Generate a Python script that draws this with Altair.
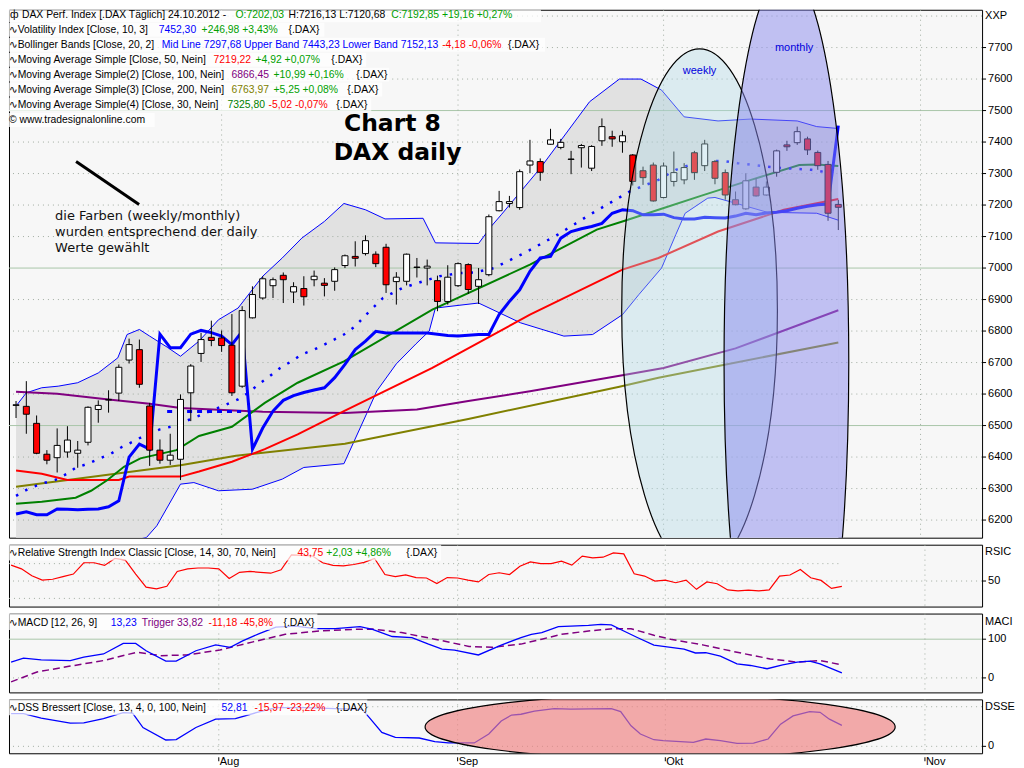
import altair as alt
import pandas as pd

# ---------------- daily candles (bar index 0 = early July 2012, 80 = 24.10.2012) ----------------
opens = [6564, 6561, 6507, 6409, 6398, 6416, 6412, 6447, 6551, 6581,
         6603, 6708, 6741, 6562, 6422, 6390, 6393, 6604, 6729, 6780,
         6778, 6755, 6625, 6842, 6905, 6944, 6977, 6924, 6935, 6963,
         6952, 6958, 7008, 7037, 7046, 7044, 7066, 6957, 6958, 7002,
         7000, 6960, 6894, 6944, 7011, 6942, 6979, 7182, 7205, 7192,
         7327, 7338, 7393, 7383, 7345, 7382, 7317, 7404, 7417, 7401,
         7359, 7309, 7327, 7224, 7275, 7280, 7366, 7325, 7338, 7303,
         7217, 7188, 7257, 7232, 7304, 7391, 7398, 7410, 7367, 7329,
         7202.03]
highs = [6578, 6641, 6532, 6422, 6491, 6498, 6451, 6561, 6580, 6612,
         6694, 6776, 6773, 6572, 6456, 6474, 6599, 6695, 6794, 6833,
         6802, 6854, 6879, 6942, 6974, 6970, 6986, 6955, 6974, 6992,
         6968, 7002, 7043, 7085, 7104, 7053, 7077, 6987, 7046, 7032,
         7027, 6976, 7009, 7018, 7015, 7000, 7170, 7245, 7229, 7313,
         7407, 7348, 7442, 7410, 7372, 7394, 7390, 7475, 7436, 7436,
         7362, 7322, 7335, 7335, 7370, 7333, 7372, 7407, 7343, 7313,
         7243, 7301, 7285, 7275, 7376, 7404, 7449, 7417, 7373, 7340,
         7216.13]
lows = [6524, 6474, 6409, 6377, 6351, 6398, 6366, 6437, 6509, 6541,
        6578, 6697, 6620, 6372, 6379, 6375, 6327, 6514, 6702, 6752,
        6734, 6594, 6620, 6840, 6900, 6905, 6889, 6889, 6881, 6942,
        6910, 6928, 7000, 7005, 7040, 7003, 6921, 6884, 6945, 6970,
        6945, 6863, 6884, 6940, 6918, 6886, 6974, 7180, 7192, 7185,
        7301, 7277, 7392, 7377, 7298, 7319, 7308, 7388, 7385, 7366,
        7262, 7264, 7211, 7221, 7259, 7266, 7280, 7308, 7266, 7217,
        7199, 7185, 7227, 7230, 7290, 7372, 7391, 7359, 7312, 7150,
        7120.68]
closes = [6566, 6536, 6412, 6390, 6437, 6454, 6422, 6558, 6564, 6583,
          6685, 6757, 6631, 6422, 6390, 6406, 6583, 6689, 6773, 6770,
          6754, 6604, 6865, 6916, 6966, 6963, 6963, 6941, 6909, 6974,
          6945, 6995, 7039, 7031, 7087, 7014, 6947, 6971, 7044, 7003,
          7006, 6894, 6971, 7014, 6932, 6963, 7163, 7211, 7211, 7306,
          7340, 7304, 7407, 7399, 7346, 7389, 7386, 7449, 7410, 7420,
          7275, 7287, 7213, 7324, 7303, 7319, 7303, 7394, 7285, 7232,
          7201, 7277, 7229, 7257, 7372, 7385, 7433, 7375, 7325, 7174,
          7192.85]
bar_idx = list(range(len(opens)))

# ---------------- main panel indicators (bar index, value) ----------------
bb_up_i = [0, 1, 2.5, 4.1, 6, 8, 9.9, 10.8, 12, 13, 14.7, 16, 17.8, 19.7, 21.6, 24, 25.9, 27.8,
           30, 31.9, 34, 35.9, 39.6, 40.8, 45, 46.3, 47.2, 51, 55.8, 58.7, 60.8, 62.8, 65,
           68.3, 71.5, 76, 77.9, 80]
bb_up_v = [6562, 6604, 6620, 6625, 6636, 6667, 6715, 6789, 6805, 6784, 6749, 6720, 6768, 6836, 6873,
           6974, 7032, 7095, 7148, 7205, 7185, 7156, 7158, 7080, 7078, 7135, 7169, 7317, 7528, 7600,
           7600, 7565, 7480, 7467, 7473, 7467, 7449, 7443]
bb_lo_i = [0, 6, 12.7, 13.7, 16, 17.3, 19.7, 23, 25.9, 28, 31.9, 34.1, 35.1, 37, 38.9, 40.2, 40.8,
           45, 49.1, 53.3, 56.1, 59, 60.6, 62.8, 64.2, 65.1, 67.3, 68, 70, 73.1, 77.9, 80]
bb_lo_v = [6060, 6090, 6145, 6182, 6314, 6319, 6293, 6298, 6330, 6367, 6379, 6537, 6610, 6696, 6759,
           6800, 6873, 6889, 6826, 6784, 6789, 6852, 6916, 7000, 7107, 7174, 7222, 7224, 7206, 7177,
           7174, 7152]
bb_mid_i = [0, 1.2, 2.5, 3.8, 4.9, 5.8, 7, 8.1, 9.2, 10.3, 11.5, 12.7, 14, 15.3, 20.1, 21.6, 22.6,
            23.6, 24.5, 25.7, 26.8, 27.8, 29, 30.3, 31.9, 33, 34, 35.7, 37.6, 39.6, 41.2, 43.1, 44.6,
            46.5, 49.4, 52.7, 55.8, 59.7, 62.5, 64.2, 65.6, 67.3, 68.8, 70.2, 71.5, 73.1, 74.7, 76,
            77.4, 80]
bb_mid_v = [6277, 6299, 6316, 6327, 6346, 6366, 6379, 6395, 6410, 6432, 6451, 6472, 6488, 6498, 6562,
            6583, 6604, 6631, 6652, 6683, 6704, 6726, 6741, 6762, 6789, 6815, 6850, 6905, 6937, 6958,
            6974, 6984, 6986, 7000, 7047, 7106, 7169, 7243, 7280, 7312, 7328, 7340, 7340, 7333, 7328,
            7322, 7317, 7315, 7312, 7298]
vol_v = [6219, 6226, 6217, 6217, 6235, 6234, 6233, 6234, 6235, 6242,
         6261, 6400, 6441, 6425, 6790, 6747, 6747, 6790, 6802, 6795,
         6784, 6757, 6799, 6425, 6492, 6546, 6580, 6595, 6605, 6613,
         6620, 6652, 6694, 6741, 6768, 6799, 6794, 6794, 6794, 6794,
         6794, 6790, 6786, 6784, 6787, 6789, 6789, 6852, 6894, 6931,
         6990, 7032, 7037, 7095, 7116, 7125, 7132, 7142, 7174, 7185,
         7182, 7169, 7169, 7171, 7160, 7156, 7156, 7161, 7160, 7159,
         7165, 7174, 7169, 7175, 7177, 7182, 7190, 7196, 7201, 7203,
         7452]
vol_dot_i = [14.7, 21.9]
vol_dot_v = [6545, 6545]
ma50_i = [0, 2.5, 4, 5, 10, 11, 16, 17.8, 21, 24.2, 27.4, 31.9, 40.5, 50, 59, 62.5, 68.3, 74.7, 77.9, 80]
ma50_v = [6357, 6347, 6335, 6327, 6327, 6338, 6338, 6354, 6385, 6425, 6472, 6546, 6683, 6852, 6995,
          7032, 7116, 7185, 7206, 7219]
ma30_i = [0, 2.5, 5.8, 7.3, 8.9, 10.5, 12.1, 15.6, 17.8, 21, 24.2, 27.4, 31.9, 40.5, 50, 56.5, 59.3,
          62.5, 66.7, 71.5, 76.2, 77.9, 80]
ma30_v = [6252, 6258, 6271, 6293, 6327, 6369, 6396, 6422, 6467, 6496, 6572, 6636, 6704, 6868, 7011,
          7122, 7151, 7185, 7230, 7280, 7327, 7329, 7324]
ma100_i = [0, 4, 9, 13, 16, 24, 32, 34, 39, 44, 50, 59, 63, 70, 80]
ma100_v = [6607, 6601, 6583, 6569, 6556, 6544, 6540, 6543, 6551, 6578, 6609, 6660, 6683, 6745, 6866]
ma200_i = [0, 16, 21.4, 32, 44, 58.7, 62.5, 80]
ma200_v = [6306, 6374, 6404, 6442, 6521, 6623, 6652, 6764]

# weekly / monthly indicator levels drawn inside the ellipses
seg_i1 = [62.8, 62.8, 62.8, 62.8, 62.8, 71.9, 70.8, 70.8]
seg_i2 = [70.0, 70.0, 70.0, 70.0, 70.0, 78.0, 79.0, 79.0]
seg_v = [6800, 6762, 6718, 6672, 6578, 7385, 6690, 6567]
seg_col = ["#0000ff", "#009a00", "#0000ff", "#800080", "#ff0000", "#0000ff", "#0000ff", "#006c40"]
seg_dot = [True, False, False, False, False, False, True, False]
seg_w = [3.5, 3, 3, 3, 3, 4, 3.5, 3.5]
seg_group = ["w", "w", "w", "w", "w", "m", "m", "m"]

# ---------------- lower panels ----------------
rsi_v = [68.3, 64, 56, 51, 52, 55, 58, 71, 71, 68,
         76, 74, 58, 43, 41, 44, 61, 64, 65, 65,
         64, 53, 60, 61, 60, 59, 63, 80, 79.5, 79,
         71, 68, 67.5, 69, 71.5, 76, 57.5, 55, 57, 54,
         53.5, 47, 54, 53.5, 51, 49, 57.5, 59.5, 57.5, 67,
         72, 70, 70, 72.8, 68.3, 78.6, 76.6, 77.4, 82.3, 81.2,
         58.3, 55.7, 50, 51.1, 48, 51.1, 40.4, 48.9, 46.9, 39.7,
         38.6, 39.5, 38.6, 39.7, 55.7, 56.9, 63.3, 53.8, 50.7, 41.5,
         43.75]
macd_i = [0, 1.2, 2.9, 5.7, 7, 8.9, 10.8, 12, 13, 14.9, 15.9, 17.8, 19.7, 21.1, 22.3, 23.9, 25.5,
          27.4, 29.3, 31.2, 33.6, 34.8, 36.7, 38.6, 40.2, 41.5, 42.7, 45, 47.2, 49.1, 50.1, 51.1,
          52.7, 53.9, 55.6, 56.8, 57.8, 59, 60.3, 61.9, 62.8, 64.8, 65.9, 66.9, 68.3, 69.9, 71.2,
          72.8, 74.3, 75.7, 76.9, 77.9, 80]
macd_v = [40.7, 50.9, 46.6, 44.8, 53.4, 61.8, 89, 89, 70.2, 43.3, 43.3, 70.2, 85.5, 78.9, 95.7, 114.5,
          131.3, 133.8, 127.2, 127.2, 132.3, 125.4, 106.9, 104.3, 87.3, 74.6, 72, 59.3, 84.7, 104.3,
          112.7, 117, 132.3, 133.8, 135.6, 138.2, 137, 121.1, 104.3, 84.7, 81.4, 74.6, 64.4, 65, 56,
          36.4, 32.1, 23.7, 33.8, 40.7, 43.3, 36.4, 13.23]
trig_i = [0, 2.5, 5.7, 8.9, 12.1, 14.4, 16.9, 20.1, 23.3, 26.4, 29.7, 33.1, 34.8, 37.6, 40.8, 44.1,
          46.3, 49.1, 51.1, 53, 55.6, 58, 59.7, 61.9, 63.5, 66.7, 69.9, 73.1, 75.7, 77.9, 80]
trig_v = [-10.2, 15.3, 30.5, 44.8, 66.2, 57.5, 59.3, 72, 93.1, 112.7, 121.1, 125.4, 126, 117, 100,
          81.4, 78.9, 87.3, 100, 112.7, 121.1, 127.2, 127, 110.2, 100, 84.7, 66.2, 49.1, 40.7, 44.8,
          33.82]
dss_i = [0, 1.2, 2.9, 5.7, 7, 8.9, 10.8, 11.7, 12.7, 14.9, 15.9, 17.8, 19.7, 21.6, 23.6, 25.5, 28.4,
         31.2, 33.8, 34.5, 35.7, 37, 39.3, 40.8, 42.1, 44.6, 46, 47.2, 48.2, 49.1, 50.4, 52.3, 53.9,
         57.8, 58.7, 59.7, 60.6, 61.9, 62.8, 65.7, 66.9, 68.3, 69.9, 71.5, 72.9, 74.1, 75.3, 76.9,
         77.9, 78.8, 80]
dss_v = [82.5, 82.5, 71, 58.5, 59, 70, 85, 84, 47.5, 16, 17, 47.5, 68.5, 70, 85, 97.5, 97.5, 95, 93.5,
         72.5, 35, 22.5, 21, 11.7, 8.5, 8.5, 31, 64, 79, 81, 89, 95, 94, 95, 87.5, 51.7, 31, 16.7,
         14.2, 10, 18.5, 14.2, 7.5, 8, 18.5, 56, 76.7, 87.5, 86, 68.5, 52.81]

# ---------------- axis ticks / labels ----------------
month_pos = [20, 43, 63, 88]
month_names = ["Aug", "Sep", "Okt", "Nov"]
price_ticks = list(range(6200, 7701, 100))
price_grid_dotted = [p for p in range(6200, 7801, 100) if p % 500 != 0]
price_grid_solid = [6500, 7000, 7500]

# ---------------- layout ----------------
W = 975
H_MAIN, H_RSI, H_MACD, H_DSS = 529, 62, 79, 54
XDOM = [-0.2, 93.5]
GRID_DOT = "#a2ada2"
GRID_SOLID = "#a9c6a9"
BG = "#f7f7f7"
FONT = "Liberation Sans, DejaVu Sans, sans-serif"
HFS = 10.4
BLACK, BLUE, GREEN, RED = "#000000", "#0000ff", "#00a000", "#ff0000"
PURPLE, OLIVE, DKGREEN = "#800080", "#808000", "#008000"

xs = alt.Scale(domain=XDOM, nice=False, zero=False)
ys_main = alt.Scale(domain=[6144, 7820], nice=False, zero=False)
ys_rsi = alt.Scale(domain=[20.6, 91.8], nice=False, zero=False)
ys_macd = alt.Scale(domain=[-37.4, 166.2], nice=False, zero=False)
ys_dss = alt.Scale(domain=[-17.5, 118.5], nice=False, zero=False)


def xq(field="i"):
    return alt.X(f"{field}:Q", scale=xs, axis=None)


def yq(field, scale):
    return alt.Y(f"{field}:Q", scale=scale, axis=None)


def series(xi, v, color, width, scale, dash=None):
    kw = dict(color=color, strokeWidth=width, clip=True)
    if dash is not None:
        kw["strokeDash"] = dash
    return alt.Chart(pd.DataFrame({"i": xi, "v": v})).mark_line(**kw).encode(
        x=xq(), y=yq("v", scale))


def hrules(levels, scale, color, dash=None):
    kw = dict(color=color, strokeWidth=1, clip=True)
    if dash is not None:
        kw["strokeDash"] = dash
    return alt.Chart(pd.DataFrame({"v": levels})).mark_rule(**kw).encode(y=yq("v", scale))


def vgrid():
    return alt.Chart(pd.DataFrame({"i": month_pos})).mark_rule(
        color=GRID_DOT, strokeDash=[1, 4], strokeWidth=1).encode(x=xq("i"))


def right_scale(values, scale, title, title_y):
    """Right-hand price scale: tick dash, label and the short indicator name."""
    df = pd.DataFrame({"v": values})
    ticks = alt.Chart(df).mark_rule(color="black", strokeWidth=1).encode(
        x=alt.value(W), x2=alt.value(W + 4), y=yq("v", scale))
    labels = alt.Chart(df).mark_text(align="left", baseline="middle", font=FONT, fontSize=11,
                                     color="black").encode(
        x=alt.value(W + 6), y=yq("v", scale), text=alt.Text("v:Q", format="d"))
    ttl = alt.Chart(pd.DataFrame({"t": [title]})).mark_text(
        align="left", baseline="middle", font=FONT, fontSize=11, color="black").encode(
        x=alt.value(W + 3), y=alt.value(title_y), text="t:N")
    return [ticks, labels, ttl]


def ellipse_path(rx, ry):
    k = 0.5523
    f = lambda a: f"{a:.4f}"
    return (f"M {f(rx)} 0 C {f(rx)} {f(k*ry)} {f(k*rx)} {f(ry)} 0 {f(ry)} "
            f"C {f(-k*rx)} {f(ry)} {f(-rx)} {f(k*ry)} {f(-rx)} 0 "
            f"C {f(-rx)} {f(-k*ry)} {f(-k*rx)} {f(-ry)} 0 {f(-ry)} "
            f"C {f(k*rx)} {f(-ry)} {f(rx)} {f(-k*ry)} {f(rx)} 0 Z")


def ellipse(i, v, rx, ry, diameter, fill, fill_op, scale):
    return alt.Chart(pd.DataFrame({"i": [i], "v": [v]})).mark_point(
        shape=ellipse_path(rx, ry), size=diameter ** 2, filled=True, fill=fill,
        fillOpacity=fill_op, stroke="black", strokeWidth=1.2, strokeOpacity=1,
        opacity=1, clip=True).encode(x=xq(), y=yq("v", scale))


def text_block(lines, dx, dy, half=7.5, top_box=False):
    """Legend-style header texts placed in pixel positions relative to the panel."""
    layers = []
    for y, items, box_end in lines:
        y1 = 0 if top_box else max(0, y + dy - half)
        layers.append(
            alt.Chart(pd.DataFrame({"k": [0]})).mark_rect(color="white", opacity=0.72).encode(
                x=alt.value(0), x2=alt.value(box_end + dx),
                y=alt.value(y1), y2=alt.value(y + dy + half)))
    for y, items, box_end in lines:
        for x, t, col in items:
            layers.append(
                alt.Chart(pd.DataFrame({"t": [t]})).mark_text(
                    align="left", baseline="middle", font=FONT, fontSize=HFS, color=col).encode(
                    x=alt.value(x + dx), y=alt.value(y + dy), text="t:N"))
    return layers


# ---------------- main panel ----------------
cd = pd.DataFrame({"i": bar_idx, "o": opens, "h": highs, "l": lows, "c": closes})
cd["fill"] = ["#ffffff" if c >= o else "#ff0000" for o, c in zip(opens, closes)]

band_up = alt.Chart(pd.DataFrame({"i": bb_up_i, "v": bb_up_v})).mark_area(
    color="#e1e1e1", opacity=1, clip=True).encode(x=xq(), y=yq("v", ys_main), y2=alt.value(H_MAIN))
band_lo = alt.Chart(pd.DataFrame({"i": bb_lo_i, "v": bb_lo_v})).mark_area(
    color=BG, opacity=1, clip=True).encode(x=xq(), y=yq("v", ys_main), y2=alt.value(H_MAIN))

wicks = alt.Chart(cd).mark_rule(color="black", strokeWidth=1).encode(
    x=xq(), y=yq("l", ys_main), y2="h:Q")
bodies = alt.Chart(cd).mark_bar(size=6, stroke="black", strokeWidth=1).encode(
    x=xq(), y=yq("o", ys_main), y2="c:Q", fill=alt.Fill("fill:N", scale=None))

segs = pd.DataFrame({"i1": seg_i1, "i2": seg_i2, "v": seg_v, "col": seg_col,
                     "dot": seg_dot, "w": seg_w, "g": seg_group})


def seg_layer(group, dotted):
    d = segs[(segs.g == group) & (segs.dot == dotted)]
    kw = dict(strokeCap="butt")
    if dotted:
        kw["strokeDash"] = [5, 7]
    return alt.Chart(d).mark_rule(**kw).encode(
        x=xq("i1"), x2="i2:Q", y=yq("v", ys_main),
        color=alt.Color("col:N", scale=None), strokeWidth=alt.StrokeWidth("w:Q", scale=None))


diag = alt.Chart(pd.DataFrame({"i": [5.84, 11.97], "v": [7338, 7202]})).mark_line(
    color="black", strokeWidth=3).encode(x=xq(), y=yq("v", ys_main))
note_lines = ["die Farben (weekly/monthly)", "wurden entsprechend der daily", "Werte gewählt"]
note = alt.Chart(pd.DataFrame({"i": [3.8] * 3, "v": [7164, 7114, 7063], "t": note_lines})).mark_text(
    align="left", baseline="middle", font="DejaVu Sans", fontSize=13, color="#111111").encode(
    x=xq(), y=yq("v", ys_main), text="t:N")
big = alt.Chart(pd.DataFrame({"i": [31.9, 30.9], "v": [7456, 7364], "t": ["Chart 8", "DAX daily"]})).mark_text(
    align="left", baseline="middle", font="DejaVu Sans", fontWeight="bold", fontSize=23.5,
    color="black").encode(x=xq(), y=yq("v", ys_main), text="t:N")
ell_labels = alt.Chart(pd.DataFrame({"i": [66.5, 75.7], "v": [7626, 7699], "t": ["weekly", "monthly"]})).mark_text(
    align="center", baseline="middle", font=FONT, fontSize=11, color="#0000dd").encode(
    x=xq(), y=yq("v", ys_main), text="t:N")

header_lines = [
    (11, [(5, "ф", BLACK), (17, "DAX Perf. Index [.DAX  Täglich] 24.10.2012 -", BLACK),
          (231, "O:7202,03", GREEN), (284, "H:7216,13 L:7120,68", BLACK),
          (387, "C:7192,85 +19,16 +0,27%", GREEN)], 537),
    (25.5, [(4, "∿Volatility Index [Close, 10, 3]", BLACK), (154, "7452,30", BLUE),
            (197, "+246,98 +3,43%", GREEN), (284, "{.DAX}", BLACK)], 320),
    (40.5, [(4, "∿Bollinger Bands [Close, 20, 2]", BLACK),
            (157, "Mid Line 7297,68 Upper Band 7443,23 Lower Band 7152,13", BLUE),
            (438, "-4,18 -0,06%", RED), (504, "{.DAX}", BLACK)], 541),
    (55.5, [(4, "∿Moving Average Simple [Close, 50, Nein]", BLACK), (209, "7219,22", RED),
            (251, "+4,92 +0,07%", GREEN), (327, "{.DAX}", BLACK)], 362),
    (70.5, [(4, "∿Moving Average Simple(2) [Close, 100, Nein]", BLACK), (227, "6866,45", PURPLE),
            (269, "+10,99 +0,16%", GREEN), (352, "{.DAX}", BLACK)], 385),
    (85.5, [(4, "∿Moving Average Simple(3) [Close, 200, Nein]", BLACK), (227, "6763,97", OLIVE),
            (269, "+5,25 +0,08%", GREEN), (343, "{.DAX}", BLACK)], 378),
    (100.5, [(4, "∿Moving Average Simple(4) [Close, 30, Nein]", BLACK), (223, "7325,80", DKGREEN),
             (264, "-5,02 -0,07%", RED), (332, "{.DAX}", BLACK)], 367),
    (116, [(4, "© www.tradesignalonline.com", BLACK)], 150),
]

main_layers = [
    band_up, band_lo,
    hrules(price_grid_dotted, ys_main, GRID_DOT, [1, 4]),
    hrules(price_grid_solid, ys_main, GRID_SOLID),
    vgrid(),
    series(bb_up_i, bb_up_v, BLUE, 1, ys_main),
    series(bb_lo_i, bb_lo_v, BLUE, 1, ys_main),
    series(ma200_i, ma200_v, OLIVE, 2, ys_main),
    series(ma100_i, ma100_v, PURPLE, 2, ys_main),
    series(ma50_i, ma50_v, RED, 2, ys_main),
    series(ma30_i, ma30_v, DKGREEN, 2, ys_main),
    series(bb_mid_i, bb_mid_v, BLUE, 2.5, ys_main, dash=[2.5, 8]),
    series(vol_dot_i, vol_dot_v, BLUE, 3, ys_main, dash=[5, 5]),
    series(bar_idx, vol_v, BLUE, 3, ys_main),
    wicks, bodies,
    ellipse(66.5, 6866, 78 / 262, 1, 524, "#add8e6", 0.38, ys_main),
    seg_layer("w", False), seg_layer("w", True),
    ellipse(74.95, 6700, 62.5 / 393, 1, 786, "#8989ed", 0.5, ys_main),
    seg_layer("m", False), seg_layer("m", True),
    diag, note, big, ell_labels,
] + text_block(header_lines, dx=-4, dy=-5.5, half=7) + right_scale(price_ticks, ys_main, "XXP", 6.5)

main = alt.layer(*main_layers).properties(width=W, height=H_MAIN)

# ---------------- RSI ----------------
rsi_title = [(8.3, [(4, "∿Relative Strength Index Classic [Close, 14, 30, 70, Nein]", BLACK),
                    (293, "43,75", RED), (322, "+2,03 +4,86%", GREEN), (402, "{.DAX}", BLACK)], 437)]
rsi_band = alt.Chart(pd.DataFrame({"v": [70, 30], "i1": [XDOM[0]] * 2, "i2": [80, 80]})).mark_rule(
    color=GRID_DOT, strokeDash=[1, 4]).encode(x=xq("i1"), x2="i2:Q", y=yq("v", ys_rsi))
rsi_c = alt.layer(
    hrules([50], ys_rsi, GRID_DOT, [1, 4]),
    rsi_band, vgrid(),
    series(bar_idx, rsi_v, RED, 1.2, ys_rsi),
    *text_block(rsi_title, dx=-4, dy=0, top_box=True),
    *right_scale([50], ys_rsi, "RSIC", 7),
).properties(width=W, height=H_RSI)

# ---------------- MACD ----------------
macd_title = [(9, [(4, "∿MACD [12, 26, 9]", BLACK), (106, "13,23", BLUE), (137, "Trigger 33,82", PURPLE),
                   (204, "-11,18 -45,8%", RED), (279, "{.DAX}", BLACK)], 313)]
macd_c = alt.layer(
    hrules([0], ys_macd, GRID_DOT, [1, 4]),
    hrules([100], ys_macd, GRID_SOLID), vgrid(),
    series(trig_i, trig_v, PURPLE, 1.5, ys_macd, dash=[7, 4]),
    series(macd_i, macd_v, BLUE, 1.3, ys_macd),
    *text_block(macd_title, dx=-4, dy=0, top_box=True),
    *right_scale([0, 100], ys_macd, "MACI", 8),
).properties(width=W, height=H_MACD)

# ---------------- DSS ----------------
dss_title = [(8.4, [(4, "∿DSS Bressert [Close, 13, 4, 0, 100, Nein]", BLACK), (217, "52,81", BLUE),
                    (250, "-15,97 -23,22%", RED), (332, "{.DAX}", BLACK)], 363)]
months_df = pd.DataFrame({"i": month_pos, "m": month_names})
month_ticks = alt.Chart(months_df).mark_rule(color="black", strokeWidth=1).encode(
    x=xq(), y=alt.value(H_DSS + 4), y2=alt.value(H_DSS + 8))
month_labels = alt.Chart(months_df).mark_text(
    align="left", baseline="top", dx=1, font=FONT, fontSize=11, color="black").encode(
    x=xq(), y=alt.value(H_DSS + 3), text="m:N")
dss_c = alt.layer(
    hrules([0, 100], ys_dss, GRID_DOT, [1, 4]),
    vgrid(),
    series(dss_i, dss_v, BLUE, 1.3, ys_dss),
    ellipse(62.5, 49, 1, 32 / 235.5, 471, "#f08080", 0.65, ys_dss),
    *text_block(dss_title, dx=-4, dy=0, top_box=True),
    *right_scale([0], ys_dss, "DSSE", 7.7),
    month_ticks, month_labels,
).properties(width=W, height=H_DSS)

chart = alt.vconcat(main, rsi_c, macd_c, dss_c, spacing=5).resolve_scale(
    x="independent", y="independent"
).configure_view(
    stroke="black", strokeWidth=1, fill=BG
).properties(
    padding={"left": 0, "top": 0, "right": 0, "bottom": 0}, background="white"
)

chart.save("out.html", embed_options={"renderer": "svg", "actions": False})
